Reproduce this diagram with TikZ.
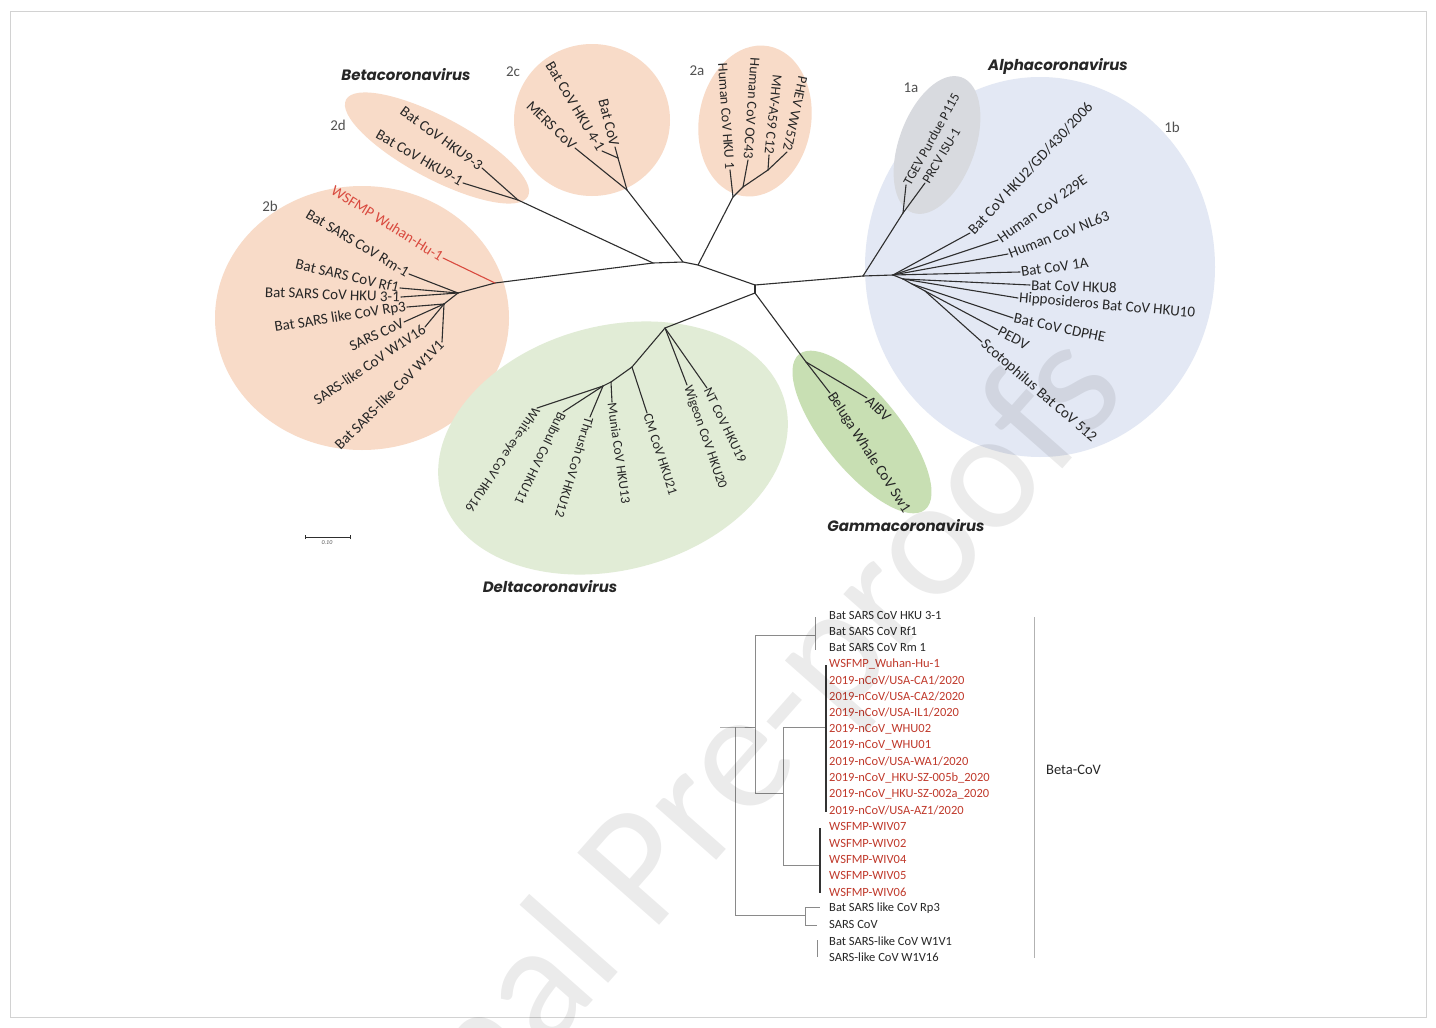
\documentclass[tikz,border=0pt]{standalone}
\usepackage{fontspec}
\setmainfont{Carlito}
\newfontfamily\cladefont{Poppins}
\definecolor{linec}{HTML}{2E2E2E}
\definecolor{txtc}{HTML}{262626}
\definecolor{peach}{HTML}{F8DBC8}
\definecolor{alphab}{HTML}{E3E8F4}
\definecolor{onea}{HTML}{D8DADF}
\definecolor{deltag}{HTML}{E1ECD6}
\definecolor{gammag}{HTML}{C8DFB3}
\definecolor{redt}{HTML}{D94A3F}
\definecolor{redb}{HTML}{C0392B}
\definecolor{treeg}{HTML}{8A8A8A}
\tikzset{
 br/.style={draw=linec, line width=1.1pt, line cap=round},
 lbl/.style={text=txtc, inner sep=1pt, font=\fontsize{15}{15}\selectfont},
 lbs/.style={text=txtc, inner sep=1pt, font=\fontsize{13.5}{13.5}\selectfont},
 lbm/.style={text=txtc, inner sep=1pt, font=\fontsize{14}{14}\selectfont},
 clade/.style={text=txtc, font={\cladefont\bfseries\itshape\fontsize{15}{15}\selectfont}},
 subl/.style={text=txtc!80, font=\fontsize{15}{15}\selectfont},
 bt/.style={draw=treeg, line width=0.8pt},
 btd/.style={draw=black!80, line width=1.4pt},
 bl/.style={anchor=west, inner sep=0pt, font=\fontsize{12.5}{12.5}\selectfont, text=txtc},
 blr/.style={bl, text=redb},
}
\begin{document}
\begin{tikzpicture}[x=1pt,y=-1pt]
\useasboundingbox (0,0) rectangle (1436,1028);
\fill[white] (0,0) rectangle (1436,1028);
\draw[gray!35, line width=1pt] (10,11) rectangle (1426,1017);

% ---------- clade shapes ----------
\fill[alphab] (1040,267) ellipse [x radius=175pt, y radius=190pt];
\fill[onea, rotate around={-20:(937,145)}] (937,145) ellipse [x radius=38pt, y radius=72pt];
\fill[peach] (362,318) ellipse [x radius=147pt, y radius=132pt];
\fill[peach, rotate around={-28:(437,148)}] (437,148) ellipse [x radius=103pt, y radius=31pt];
\fill[peach] (592,120) ellipse [x radius=78pt, y radius=76pt];
\fill[peach, rotate around={-10:(755,121)}] (755,121) ellipse [x radius=56pt, y radius=76pt];
\fill[deltag, rotate around={15:(613,448)}] (613,448) ellipse [x radius=178pt, y radius=122pt];
\fill[gammag, rotate around={-51:(862,432)}] (862,432) ellipse [x radius=100pt, y radius=38pt];

% ---------- backbone ----------
\coordinate (b2b) at (495,283);
\coordinate (k1) at (653,263);
\coordinate (k2) at (683,262);
\coordinate (k3) at (698,265);
\coordinate (c1) at (755,285);
\coordinate (c2) at (755,293);
\coordinate (aR) at (863,276);
\coordinate (a1a) at (903,213);
\coordinate (a1b) at (893,275);
\coordinate (dR) at (665,328);
\coordinate (gR) at (806,362);
\draw[br] (b2b) -- (k1) -- (k2) -- (k3) -- (c1) -- (aR);
\draw[br] (c1) -- (c2);
\draw[br] (c2) -- (dR);
\draw[br] (c2) -- (gR);
\draw[br] (aR) -- (a1a);
\draw[br] (aR) -- (a1b);

% ---------- 2b ----------
\coordinate (b2) at (458,293);
\coordinate (b3) at (444,304);
\coordinate (eWS) at (443,258);
\coordinate (eRm) at (409,274);
\coordinate (eRf) at (400,288);
\coordinate (eH31) at (401,297);
\coordinate (eRp3) at (407,307);
\coordinate (eSC) at (404,322);
\coordinate (eW16) at (425,327);
\coordinate (eW1) at (442,342);
\draw[br] (b2b) -- (b2);
\draw[br] (b2) -- (b3);
\draw[br, draw=redt] (b2b) -- (eWS);
\draw[br] (b2) -- (eRm);
\draw[br] (b2) -- (eRf);
\draw[br] (b2) -- (eH31);
\draw[br] (b3) -- (eRp3);
\draw[br] (b3) -- (eSC);
\draw[br] (b3) -- (eW16);
\draw[br] (b3) -- (eW1);
\node[lbl, anchor=east, rotate=-32, text=redt] (tWS) at (eWS) {WSFMP Wuhan-Hu-1};
\node[lbl, anchor=east, rotate=-31] (tRm) at (eRm) {Bat SARS CoV Rm-1};
\node[lbl, anchor=east, rotate=-13] (tRf) at (eRf) {Bat SARS CoV Rf1};
\node[lbl, anchor=east, rotate=-2] (tH31) at (eH31) {Bat SARS CoV HKU 3-1};
\node[lbl, anchor=east, rotate=9] (tRp3) at (eRp3) {Bat SARS like CoV Rp3};
\node[lbl, anchor=east, rotate=25] (tSC) at (eSC) {SARS CoV};
\node[lbl, anchor=east, rotate=34] (tW16) at (eW16) {SARS-like CoV W1V16};
\node[lbl, anchor=east, rotate=45] (tW1) at (eW1) {Bat SARS-like CoV W1V1};

% ---------- 2d ----------
\coordinate (n2d) at (518,200);
\coordinate (e93) at (482,168);
\coordinate (e91) at (463,183);
\draw[br] (k1) -- (n2d);
\draw[br] (n2d) -- (e93);
\draw[br] (n2d) -- (e91);
\node[lbl, anchor=east, rotate=-36] (t93) at (e93) {Bat CoV HKU9-3};
\node[lbl, anchor=east, rotate=-30] (t91) at (e91) {Bat CoV HKU9-1};

% ---------- 2c ----------
\coordinate (n2c) at (627,190);
\coordinate (n2c1) at (618,158);
\coordinate (ebc) at (615,147);
\coordinate (e41) at (602,151);
\coordinate (emers) at (575,148);
\draw[br] (k2) -- (n2c);
\draw[br] (n2c) -- (n2c1);
\draw[br] (n2c1) -- (ebc);
\draw[br] (n2c1) -- (e41);
\draw[br] (n2c) -- (emers);
\node[lbl, anchor=east, rotate=-76] (tbc) at (ebc) {Bat CoV};
\node[lbl, anchor=east, rotate=-59] (t41) at (e41) {Bat CoV HKU 4-1};
\node[lbl, anchor=east, rotate=-44] (tmers) at (emers) {MERS CoV};

% ---------- 2a ----------
\coordinate (n2a) at (733,197);
\coordinate (n2a1) at (743,187);
\coordinate (n2a2) at (768,170);
\coordinate (eHK1) at (730,170);
\coordinate (eOC) at (748,160);
\coordinate (eMHV) at (769,155);
\coordinate (ePH) at (787,152);
\draw[br] (k3) -- (n2a);
\draw[br] (n2a) -- (eHK1);
\draw[br] (n2a) -- (n2a1);
\draw[br] (n2a1) -- (eOC);
\draw[br] (n2a1) -- (n2a2);
\draw[br] (n2a2) -- (eMHV);
\draw[br] (n2a2) -- (ePH);
\node[lbm, anchor=east, rotate=-86] (tHK1) at (eHK1) {Human CoV HKU 1};
\node[lbm, anchor=east, rotate=-94] (tOC) at (eOC) {Human CoV OC43};
\node[lbm, anchor=east, rotate=-96] (tMHV) at (eMHV) {MHV-A59 C12};
\node[lbm, anchor=east, rotate=-102] (tPH) at (ePH) {PHEV VW572};

% ---------- alpha ----------
\coordinate (eTG) at (906,185);
\coordinate (ePR) at (925,183);
\draw[br] (a1a) -- (eTG);
\draw[br] (a1a) -- (ePR);
\node[lbs, anchor=west, rotate=61] (tTG) at (eTG) {TGEV Purdue P115};
\node[lbs, anchor=west, rotate=59] (tPR) at (ePR) {PRCV ISU-1};
\coordinate (a2) at (903,279);
\coordinate (a3) at (912,284);
\coordinate (a4) at (925,291);
\coordinate (eHK2) at (970,233);
\coordinate (e229) at (998,240);
\coordinate (eNL) at (1008,254);
\coordinate (e1A) at (1020,272);
\coordinate (eHK8) at (1030,285);
\coordinate (eHK10) at (1018,298);
\coordinate (eCD) at (1013,318);
\coordinate (ePE) at (998,330);
\coordinate (eSc) at (982,342);
\draw[br] (a1b) -- (a2);
\draw[br] (a2) -- (a3);
\draw[br] (a3) -- (a4);
\draw[br] (a1b) -- (eHK2);
\draw[br] (a1b) -- (e229);
\draw[br] (a1b) -- (eNL);
\draw[br] (a1b) -- (e1A);
\draw[br] (a2) -- (eHK8);
\draw[br] (a2) -- (eHK10);
\draw[br] (a3) -- (eCD);
\draw[br] (a4) -- (ePE);
\draw[br] (a4) -- (eSc);
\node[lbl, anchor=west, rotate=47] (tHK2) at (eHK2) {Bat CoV HKU2/GD/430/2006};
\node[lbl, anchor=west, rotate=35] (t229) at (e229) {Human CoV 229E};
\node[lbl, anchor=west, rotate=21] (tNL) at (eNL) {Human CoV NL63};
\node[lbl, anchor=west, rotate=8] (t1A) at (e1A) {Bat CoV 1A};
\node[lbl, anchor=west, rotate=-2] (tHK8) at (eHK8) {Bat CoV HKU8};
\node[lbl, anchor=west, rotate=-5] (tHK10) at (eHK10) {Hipposideros Bat CoV HKU10};
\node[lbl, anchor=west, rotate=-12] (tCD) at (eCD) {Bat CoV CDPHE};
\node[lbl, anchor=west, rotate=-28] (tPE) at (ePE) {PEDV};
\node[lbl, anchor=west, rotate=-41] (tSc) at (eSc) {Scotophilus Bat CoV 512};

% ---------- delta ----------
\coordinate (d1) at (632,367);
\coordinate (d2) at (611,382);
\coordinate (d3) at (603,386);
\coordinate (eNT) at (707,388);
\coordinate (eWg) at (687,385);
\coordinate (eCM) at (647,413);
\coordinate (eMu) at (612,402);
\coordinate (eTh) at (590,417);
\coordinate (eBu) at (563,412);
\coordinate (eWE) at (537,408);
\draw[br] (dR) -- (eNT);
\draw[br] (dR) -- (eWg);
\draw[br] (dR) -- (d1);
\draw[br] (d1) -- (eCM);
\draw[br] (d1) -- (d2);
\draw[br] (d2) -- (eMu);
\draw[br] (d2) -- (d3);
\draw[br] (d3) -- (eTh);
\draw[br] (d3) -- (eBu);
\draw[br] (d3) -- (eWE);
\node[lbs, anchor=west, rotate=-64] (tNT) at (eNT) {NT CoV HKU19};
\node[lbs, anchor=west, rotate=-71] (tWg) at (eWg) {Wigeon CoV HKU20};
\node[lbs, anchor=west, rotate=-72] (tCM) at (eCM) {CM CoV HKU21};
\node[lbs, anchor=west, rotate=-82] (tMu) at (eMu) {Munia CoV HKU13};
\node[lbs, anchor=west, rotate=-107] (tTh) at (eTh) {Thrush CoV HKU12};
\node[lbs, anchor=west, rotate=-116] (tBu) at (eBu) {Bulbul CoV HKU11};
\node[lbs, anchor=west, rotate=-124] (tWE) at (eWE) {White-eye CoV HKU16};

% ---------- gamma ----------
\coordinate (eAI) at (867,398);
\coordinate (eBe) at (830,393);
\draw[br] (gR) -- (eAI);
\draw[br] (gR) -- (eBe);
\node[lbl, anchor=west, rotate=-44] (tAI) at (eAI) {AIBV};
\node[lbl, anchor=west, rotate=-57] (tBe) at (eBe) {Beluga Whale CoV Sw1};

% ---------- clade names ----------
\node[clade] (cBeta) at (406,75) {Betacoronavirus};
\node[clade] (cAlpha) at (1058,66) {Alphacoronavirus};
\node[clade] (cGamma) at (906,526) {Gammacoronavirus};
\node[clade] (cDelta) at (550,587) {Deltacoronavirus};
\node[subl] (s2c) at (513,72) {2c};
\node[subl] (s2a) at (697,71) {2a};
\node[subl] (s2d) at (338,125) {2d};
\node[subl] (s2b) at (270,206) {2b};
\node[subl] (s1a) at (911,88) {1a};
\node[subl] (s1b) at (1172,127) {1b};

% scale bar
\coordinate (sb1) at (305,537);
\coordinate (sb2) at (350,537);
\draw[linec, line width=0.9pt] (sb1) -- (sb2);
\draw[linec, line width=0.9pt] ([yshift=-2pt]sb1) -- ([yshift=2pt]sb1);
\draw[linec, line width=0.9pt] ([yshift=-2pt]sb2) -- ([yshift=2pt]sb2);
\node[font=\fontsize{6}{6}\selectfont\itshape, text=txtc!80, inner sep=0pt] (sbt) at (327,543) {0.10};

% ---------- bottom tree ----------
\coordinate (r0) at (720,727);
\coordinate (n0) at (735,727);
\coordinate (n0b) at (735,915);
\coordinate (n1) at (755,727);
\coordinate (n1t) at (755,635);
\coordinate (n1b) at (755,793);
\coordinate (tp) at (815,635);
\coordinate (tpa) at (815,617);
\coordinate (tpb) at (815,650);
\coordinate (n2t) at (783,727);
\coordinate (n2m) at (783,793);
\coordinate (n2b) at (783,865);
\coordinate (nc) at (826,727);
\coordinate (nca) at (826,665);
\coordinate (ncb) at (826,812);
\coordinate (wv) at (820,865);
\coordinate (wva) at (820,828);
\coordinate (wvb) at (820,893);
\coordinate (sr) at (805,915);
\coordinate (sra) at (805,907);
\coordinate (srb) at (805,925);
\coordinate (srp) at (820,907);
\coordinate (srw) at (817,925);
\coordinate (srwa) at (817,940);
\coordinate (srwb) at (817,957);
\draw[bt] (r0) -- (n0) -- (n1);
\draw[bt] (n0) -- (n0b) -- (sr);
\draw[bt] (n1t) -- (n1b);
\draw[bt] (n1t) -- (tp);
\draw[bt] (tpa) -- (tpb);
\draw[bt] (n1b) -- (n2m);
\draw[bt] (n2t) -- (n2b);
\draw[bt] (n2t) -- (nc);
\draw[bt] (n2b) -- (wv);
\draw[btd] (nca) -- (ncb);
\draw[btd] (wva) -- (wvb);
\draw[bt] (sra) -- (srb);
\draw[bt] (sra) -- (srp);
\draw[bt] (srb) -- (srw);
\draw[bt] (srwa) -- (srwb);

\node[bl] (L1) at (829,615.0) {Bat SARS CoV HKU 3-1};
\node[bl] (L2) at (829,631.3) {Bat SARS CoV Rf1};
\node[bl] (L3) at (829,647.6) {Bat SARS CoV Rm 1};
\node[blr] (L4) at (829,663.9) {WSFMP\_Wuhan-Hu-1};
\node[blr] (L5) at (829,680.2) {2019-nCoV/USA-CA1/2020};
\node[blr] (L6) at (829,696.5) {2019-nCoV/USA-CA2/2020};
\node[blr] (L7) at (829,712.7) {2019-nCoV/USA-IL1/2020};
\node[blr] (L8) at (829,729.0) {2019-nCoV\_WHU02};
\node[blr] (L9) at (829,745.3) {2019-nCoV\_WHU01};
\node[blr] (L10) at (829,761.6) {2019-nCoV/USA-WA1/2020};
\node[blr] (L11) at (829,777.9) {2019-nCoV\_HKU-SZ-005b\_2020};
\node[blr] (L12) at (829,794.2) {2019-nCoV\_HKU-SZ-002a\_2020};
\node[blr] (L13) at (829,810.5) {2019-nCoV/USA-AZ1/2020};
\node[blr] (L14) at (829,826.8) {WSFMP-WIV07};
\node[blr] (L15) at (829,843.1) {WSFMP-WIV02};
\node[blr] (L16) at (829,859.4) {WSFMP-WIV04};
\node[blr] (L17) at (829,875.6) {WSFMP-WIV05};
\node[blr] (L18) at (829,891.9) {WSFMP-WIV06};
\node[bl] (L19) at (829,908.2) {Bat SARS like CoV Rp3};
\node[bl] (L20) at (829,924.5) {SARS CoV};
\node[bl] (L21) at (829,940.8) {Bat SARS-like CoV W1V1};
\node[bl] (L22) at (829,957.1) {SARS-like CoV W1V16};
\coordinate (bar1) at (1034,617);
\coordinate (bar2) at (1034,958);
\draw[draw=gray!60, line width=1pt] (bar1) -- (bar2);
\node[bl, font=\fontsize{14.5}{14.5}\selectfont] (beta) at (1046,770) {Beta-CoV};

% ---------- watermark ----------
\begin{scope}
\clip (0,0) rectangle (1436,1028);
\node[rotate=48.6, anchor=base east, text=black, opacity=0.08, inner sep=0pt,
      font=\fontsize{170}{170}\selectfont] (wm) at (1130,392) {Journal Pre-proofs};
\end{scope}
\end{tikzpicture}
\end{document}
